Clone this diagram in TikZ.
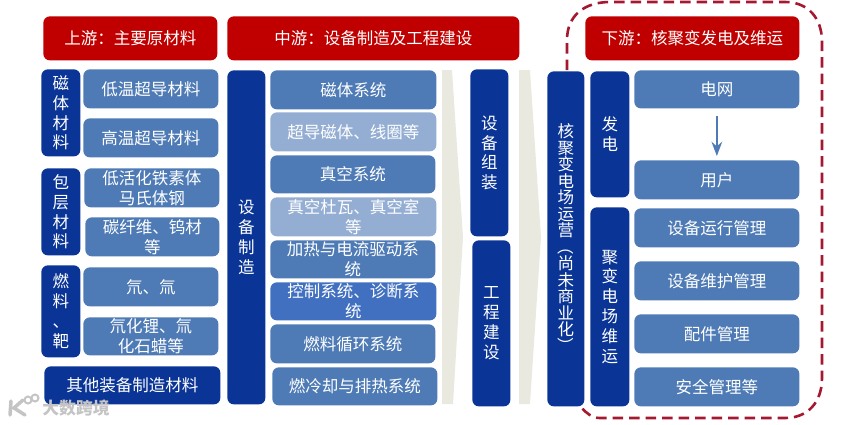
\documentclass[tikz,border=0pt]{standalone}
\usepackage{fontspec}
\usepackage{graphicx}
\setmainfont{Noto Sans CJK SC}
\usepackage{xcolor}
\usetikzlibrary{arrows.meta}
\definecolor{headred}{HTML}{C00000}
\definecolor{darkblue}{HTML}{0A3596}
\definecolor{midblue}{HTML}{4E7BB5}
\definecolor{paleblue}{HTML}{94AED3}
\definecolor{deepblue}{HTML}{4170C0}
\definecolor{wedgegray}{HTML}{EAE9E0}
\definecolor{dashred}{HTML}{A5182F}
\definecolor{wmgray}{HTML}{C4C4C4}
\tikzset{
    wh/.style 2 args={minimum width=#1*0.02cm,minimum height=#2*0.02cm},
    blk/.style={anchor=north west,rounded corners=0.13cm,inner sep=0pt,align=center,
        text=white,font=\fontsize{9.4}{11.3}\selectfont},
    head/.style={blk,fill=headred},
    side/.style={blk,fill=darkblue},
    item/.style={blk,fill=midblue},
    soft/.style={blk,fill=paleblue},
}
\begin{document}
\begin{tikzpicture}[x=0.02cm,y=-0.02cm,>=Stealth]
    \useasboundingbox (0,0) rectangle (845,424);
    % headers
    \node[head,wh={174}{44}] (up) at (43,16) {上游：主要原材料};
    \node[head,wh={292}{44}] (mid) at (227,16) {中游：设备制造及工程建设};
    \node[head,wh={214}{44}] (down) at (585,16) {下游：核聚变发电及维运};
    % upstream
    \node[side,wh={39}{87}] (magnet) at (41,69) {磁\\体\\材\\料};
    \node[item,wh={135}{39}] (lowtemp) at (83,69) {低温超导材料};
    \node[item,wh={135}{39}] (hightemp) at (83,118) {高温超导材料};
    \node[side,wh={39}{87}] (blanket) at (41,168) {包\\层\\材\\料};
    \node[item,wh={135}{39}] (steel) at (84,168) {低活化铁素体\\马氏体钢};
    \node[item,wh={134}{39}] (carbon) at (85,217) {碳纤维、钨材\\等};
    \node[side,wh={39}{92}] (fuel) at (41,265) {燃\\料\\、\\靶};
    \node[item,wh={135}{39}] (deut) at (83,267) {氘、氚};
    \node[item,wh={135}{38}] (lithium) at (83,317) {氘化锂、氚\\化石蜡等};
    \node[side,wh={176}{38}] (other) at (44,366) {其他装备制造材料};
    % midstream
    \node[side,wh={38}{334}] (make) at (227,70) {设\\备\\制\\造};
    \node[item,wh={166}{39}] (magsys) at (270,70) {磁体系统};
    \node[soft,wh={166}{39}] (coil) at (270,112) {超导磁体、线圈等};
    \node[item,wh={165}{38}] (vacsys) at (270,155) {真空系统};
    \node[soft,wh={166}{39}] (dewar) at (270,197) {真空杜瓦、真空室\\等};
    \node[item,wh={165}{38}] (heat) at (270,240) {加热与电流驱动系\\统};
    \node[blk,fill=deepblue,wh={166}{38}] (ctrl) at (270,282) {控制系统、诊断系\\统};
    \node[item,wh={165}{39}] (cycle) at (270,324) {燃料循环系统};
    \node[item,wh={165}{38}] (cool) at (272,367) {燃冷却与排热系统};
    \fill[wedgegray] (442,70) -- (452,70) -- (463,237) -- (453,404) -- (442,404) -- cycle;
    \node[side,wh={38}{167}] (assemble) at (470,69) {设\\备\\组\\装};
    \node[side,wh={38}{166}] (build) at (472,240) {工\\程\\建\\设};
    \fill[wedgegray] (519,70) -- (530,70) -- (541,237) -- (530,404) -- (519,404) -- cycle;
    % downstream
    \node[side,wh={37}{335},font=\fontsize{9.4}{9.4}\selectfont] (plant) at (547,71)
        {核\\聚\\变\\电\\场\\运\\营\\\rotatebox[origin=c]{-90}{（}\\尚\\未\\商\\业\\化\\\rotatebox[origin=c]{-90}{）}};
    \node[side,wh={39}{126}] (power) at (590,71) {发\\电};
    \node[side,wh={39}{199}] (maint) at (590,207) {聚\\变\\电\\场\\维\\运};
    \node[item,wh={165}{38}] (grid) at (634,70) {电网};
    \node[item,wh={165}{39}] (user) at (634,160) {用户};
    \node[item,wh={165}{39}] (run) at (634,208) {设备运行管理};
    \node[item,wh={165}{39}] (repair) at (634,261) {设备维护管理};
    \node[item,wh={165}{39}] (parts) at (634,314) {配件管理};
    \node[item,wh={165}{39}] (safe) at (634,367) {安全管理等};
    \draw[->,midblue,line width=0.04cm,shorten <=0.14cm,shorten >=0.08cm] (grid) -- (user);
    % dashed frame
    \draw[dashred,line width=0.052cm,dash pattern=on 0.21cm off 0.12cm]
        (567,70) -- (567,40) .. controls (567,15) and (585,2) .. (610,2) -- (785,2)
        .. controls (808,2) and (822,18) .. (822,42) -- (822,378)
        .. controls (822,402) and (808,418) .. (785,418) -- (600,418)
        .. controls (592,418) and (586,413) .. (581,407);
    % watermark
    \draw[wmgray,line width=0.07cm,line cap=round] (11,401) -- (10,415) (23,400) -- (14,408) -- (25,415);
    \draw[wmgray,line width=0.04cm] (28,400) circle (0.07cm) (35,398) circle (0.07cm);
    \node[text=wmgray,font=\fontsize{9.6}{11}\bfseries\selectfont,inner sep=0pt] (mark) at (76,408) {大数跨境};
\end{tikzpicture}
\end{document}
